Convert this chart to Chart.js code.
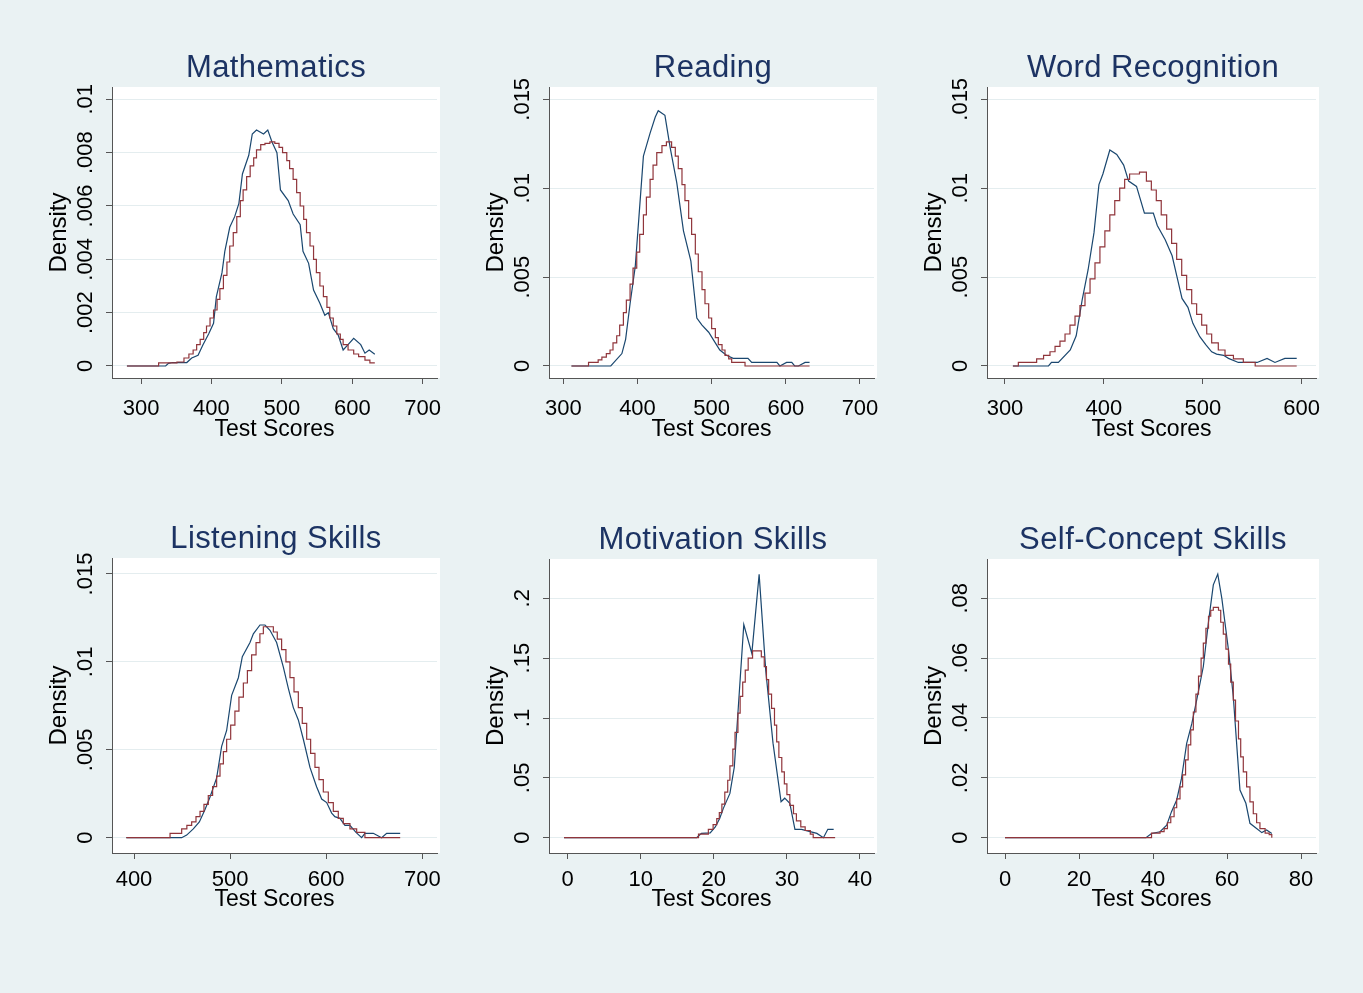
<!DOCTYPE html>
<html><head><meta charset="utf-8">
<script src="https://cdn.jsdelivr.net/npm/chart.js@4.4.1/dist/chart.umd.min.js"></script>
<style>
html,body{margin:0;padding:0;background:#EAF2F3;width:1363px;height:993px;overflow:hidden;}
canvas{position:absolute;}
</style></head><body>
<script>
// ---------- DATA ----------
const mathBlueX = [280,335,339,345,365,372,381,388,396,403,407,415,419,426,433,439,444,453,458,464,474,480,486,493,498,509,516,526,530,538,545,554,561,566,573,580,587,594,602,612,618,624,632];
const mathBlueY = [0,0,0.0001,0.00013,0.00013,0.0003,0.0004,0.0008,0.0012,0.0016,0.0026,0.0035,0.0043,0.0052,0.0056,0.0061,0.0072,0.0079,0.0087,0.00885,0.0087,0.00885,0.0084,0.0080,0.0066,0.0062,0.0057,0.0053,0.0043,0.00385,0.00285,0.00235,0.0019,0.0020,0.0014,0.00116,0.0006,0.0008,0.00104,0.0008,0.00048,0.0006,0.00044];
const mathRedX = [280,325,351,361,368,374,379,384,389,393,398,403,408,412,417,422,426,431,436,441,445,450,455,460,464,470,476,483,490,496,501,507,511,516,521,526,531,535,540,545,549,554,559,564,568,573,578,583,587,594,602,609,618,625,632];
const mathRedY = [0,0.00012,0.00015,0.0003,0.00045,0.0006,0.0008,0.001,0.00125,0.0015,0.0018,0.0021,0.0025,0.0029,0.0034,0.0039,0.0045,0.005,0.0056,0.0062,0.0066,0.0071,0.0075,0.0078,0.0081,0.0083,0.00835,0.0084,0.00835,0.0082,0.008,0.0077,0.0074,0.007,0.0065,0.006,0.0055,0.005,0.0045,0.004,0.0035,0.003,0.0026,0.0022,0.0018,0.0015,0.0012,0.001,0.0008,0.0006,0.00045,0.00035,0.00022,0.00012,0.00012];

const readBlueX = [311,364,379,384,390,397,402,408,417,424,428,437,444,453,462,472,480,487,496,502,511,520,529,549,554,588,592,601,608,612,617,626,632];
const readBlueY = [0,0,0.0007,0.0015,0.0035,0.0056,0.0084,0.0118,0.0131,0.014,0.01436,0.0141,0.0123,0.0103,0.0076,0.0059,0.0027,0.0023,0.0019,0.0015,0.0009,0.0006,0.00043,0.00043,0.0002,0.0002,0,0.0002,0.0002,0,0,0.0002,0.0002];
const readRedX = [311,334,347,352,358,363,367,372,376,381,385,390,394,399,403,408,412,417,421,426,433,439,446,451,455,460,464,469,473,478,482,487,491,496,500,505,509,514,518,523,527,545,632];
const readRedY = [0,0.0002,0.00034,0.0005,0.0007,0.0009,0.0013,0.0017,0.0023,0.003,0.0037,0.0046,0.0055,0.0064,0.0074,0.0085,0.0095,0.0105,0.0113,0.012,0.0124,0.0126,0.0123,0.0118,0.0111,0.0102,0.0093,0.0083,0.0074,0.0063,0.0053,0.0043,0.0035,0.0027,0.0021,0.0016,0.0012,0.0009,0.0006,0.0004,0.0002,0,0];

const wrBlueX = [308,344,347,354,366,372,378,384,390,395,399,406,413,420,425,433,441,450,454,462,469,474,479,485,490,497,503,509,514,521,526,536,555,565,573,583,595];
const wrBlueY = [0,0,0.0002,0.0002,0.0009,0.0017,0.0037,0.0054,0.0075,0.0102,0.0108,0.01215,0.0119,0.0113,0.0104,0.0101,0.0086,0.0086,0.0079,0.0071,0.0062,0.005,0.0038,0.0033,0.0024,0.00165,0.0012,0.0008,0.00067,0.0006,0.00043,0.0002,0.0002,0.00043,0.0002,0.00043,0.00043];
const wrRedX = [308,313.5,332,339,345.5,350.6,355.6,360.7,365.7,370.8,375.8,380.9,386,391,396,401,406,411,416,421,426,436,443,448,453,458,463.5,468.5,473.6,478.7,483.7,488.8,493.8,498.9,504,509,515.7,522.5,531,541,553,595];
const wrRedY = [0,0.0002,0.0004,0.0006,0.0008,0.0011,0.0014,0.0018,0.0023,0.0028,0.0034,0.0041,0.0049,0.0058,0.0067,0.0076,0.0085,0.0093,0.01,0.0105,0.0108,0.0109,0.0104,0.0099,0.0093,0.0085,0.0077,0.0069,0.006,0.0051,0.0043,0.0035,0.0029,0.0023,0.0018,0.0013,0.0009,0.0006,0.0004,0.0002,0,0];

const lisBlueX = [392,449.6,454.8,461.7,468,473.9,479,486,491.2,496.4,501.6,508.6,512.7,520.7,524.2,531.1,536.3,541.5,548.4,555.4,560.6,565.8,571,576.2,583.1,590,595.3,600.5,605.7,609,614.3,619.5,624.7,631,636.9,640.3,649,657.7,662.9,677];
const lisBlueY = [0,0,0.00015,0.0005,0.0009,0.0016,0.0023,0.0034,0.0052,0.0061,0.0081,0.0091,0.0103,0.0111,0.0116,0.0121,0.0121,0.0118,0.0111,0.0097,0.0085,0.0074,0.0067,0.0056,0.004,0.0029,0.0022,0.002,0.0014,0.0012,0.0011,0.0007,0.0007,0.0003,0,0.00025,0.00025,0,0.00025,0.00025];
const lisRedX = [392,437.5,449.6,455,460,464.5,468.7,472.8,477.3,481.8,486,489.5,493,496.4,500.6,505,509.2,513.8,518,522.4,527,531,534.6,541.5,545,549.1,553.6,558.1,562.3,566.5,571,575.1,579.7,583.8,588.3,592.5,597,602.2,607.4,612.6,617.8,624.7,631.7,640.3,677];
const lisRedY = [0,0.00025,0.0005,0.0007,0.0009,0.0012,0.0015,0.0019,0.0024,0.0029,0.0035,0.0042,0.0049,0.0056,0.0064,0.0072,0.008,0.0088,0.0095,0.0104,0.0111,0.0116,0.012,0.012,0.0117,0.0113,0.0107,0.01,0.0091,0.0083,0.0074,0.0065,0.0056,0.0048,0.004,0.0033,0.0026,0.002,0.0015,0.0011,0.0008,0.0005,0.0003,0,0];

const motBlueX = [-0.5,17.65,18.3,19.5,20.2,20.8,21.3,22.2,22.8,23.35,24.1,25.2,26.2,27.1,28.1,29.2,29.7,30.4,31.1,32,34.1,35,35.6,36.4];
const motBlueY = [0,0,0.0036,0.004,0.009,0.016,0.0245,0.037,0.059,0.109,0.178,0.154,0.22,0.14,0.079,0.03,0.033,0.0287,0.007,0.007,0.0036,0,0.007,0.007];
const motRedX = [-0.5,17.9,19.25,19.9,20.4,20.75,21.1,21.5,21.9,22.2,22.6,22.9,23.3,23.6,23.95,24.3,24.7,25.3,26.1,26.5,26.9,27.2,27.5,27.9,28.3,28.6,28.9,29.3,29.65,30,30.4,30.9,31.3,31.9,32.5,33.2,33.6,36.6];
const motRedY = [0,0.003,0.007,0.011,0.016,0.021,0.028,0.038,0.048,0.06,0.074,0.088,0.104,0.118,0.13,0.14,0.15,0.156,0.156,0.151,0.143,0.132,0.12,0.108,0.094,0.08,0.067,0.055,0.045,0.036,0.027,0.02,0.014,0.009,0.006,0.003,0,0];

const scBlueX = [0,38.1,39.6,41.9,43.7,45,46.4,47.7,49.1,50.5,51.8,53.6,55,56.3,57.5,58.6,60.4,61.7,63.5,65.1,66.2,68,69.4,70.7,72.1];
const scBlueY = [0,0,0.0014,0.002,0.0042,0.0087,0.0126,0.0198,0.0315,0.0382,0.046,0.0572,0.0722,0.0845,0.0881,0.08,0.0627,0.0471,0.0159,0.0115,0.0048,0.0031,0.0017,0.0026,0.0014];
const scRedX = [0,39.6,41.9,43,43.9,44.8,45.7,46.4,47.3,48,48.8,49.5,50.2,50.9,51.6,52.3,53,53.6,54.3,55,55.6,56.3,57.7,58.3,59,59.7,60.4,61,61.7,62.3,63.1,63.7,64.4,65.3,66.2,67.1,68,68.9,70.3,71.4,72.1];
const scRedY = [0,0.0015,0.002,0.003,0.005,0.007,0.01,0.013,0.017,0.021,0.026,0.031,0.036,0.042,0.048,0.054,0.06,0.065,0.07,0.074,0.076,0.077,0.076,0.072,0.068,0.063,0.058,0.052,0.046,0.039,0.033,0.027,0.022,0.017,0.012,0.008,0.005,0.003,0.0015,0.001,0];

// tick values and labels
const mathXTicks = [300,400,500,600,700];
const mathYTicks = [0,0.002,0.004,0.006,0.008,0.01];
const mathYLabels = ['0','.002','.004','.006','.008','.01'];
const readXTicks = [300,400,500,600,700];
const wrXTicks = [300,400,500,600];
const lisXTicks = [400,500,600,700];
const smallYTicks = [0,0.005,0.01,0.015];
const smallYLabels = ['0','.005','.01','.015'];
const motXTicks = [0,10,20,30,40];
const motYTicks = [0,0.05,0.1,0.15,0.2];
const motYLabels = ['0','.05','.1','.15','.2'];
const scXTicks = [0,20,40,60,80];
const scYTicks = [0,0.02,0.04,0.06,0.08];
const scYLabels = ['0','.02','.04','.06','.08'];

const titles = ['Mathematics','Reading','Word Recognition','Listening Skills','Motivation Skills','Self-Concept Skills'];
const xAxisTitle = 'Test Scores';
const yAxisTitle = 'Density';

// ---------- LAYOUT / STYLE ----------
const FONT = '"Liberation Sans", Arial, Helvetica, sans-serif';
const BLUE = '#1A476F', RED = '#90353B', AXIS = '#555555', GRID = '#E4EDEF', TITLE = '#1C3363';
const rowStyle = [{tickPad:12, xTitleOff:52}, {tickPad:8, xTitleOff:46.5}];

const panels = [
  {title:titles[0], canvas:[15,20,465,460], area:[112,87,437,378], xr:[258.8,720.3], yr:[-0.00045,0.010461], xt:mathXTicks, yt:mathYTicks, yl:mathYLabels, b:[mathBlueX,mathBlueY], r:[mathRedX,mathRedY], row:0},
  {title:titles[1], canvas:[470,20,905,460], area:[549,87,874,378], xr:[280.7,718.9], yr:[-0.000675,0.015692], xt:readXTicks, yt:smallYTicks, yl:smallYLabels, b:[readBlueX,readBlueY], r:[readRedX,readRedY], row:0},
  {title:titles[2], canvas:[910,20,1358,460], area:[987,87,1316,378], xr:[281.8,614.5], yr:[-0.000675,0.015692], xt:wrXTicks, yt:smallYTicks, yl:smallYLabels, b:[wrBlueX,wrBlueY], r:[wrRedX,wrRedY], row:0},
  {title:titles[3], canvas:[15,490,465,940], area:[112,558,437,853], xr:[377.1,715.3], yr:[-0.00087,0.01591], xt:lisXTicks, yt:smallYTicks, yl:smallYLabels, b:[lisBlueX,lisBlueY], r:[lisRedX,lisRedY], row:1},
  {title:titles[4], canvas:[470,490,905,940], area:[549,559,874,853], xr:[-2.56,41.92], yr:[-0.01278,0.23283], xt:motXTicks, yt:motYTicks, yl:motYLabels, b:[motBlueX,motBlueY], r:[motRedX,motRedY], row:1},
  {title:titles[5], canvas:[910,490,1358,940], area:[987,559,1316,853], xr:[-4.865,84.05], yr:[-0.005113,0.093133], xt:scXTicks, yt:scYTicks, yl:scYLabels, b:[scBlueX,scBlueY], r:[scRedX,scRedY], row:1}
];

const decoPlugin = {
  id: 'deco',
  beforeDraw(chart) {
    const {ctx, chartArea: a} = chart;
    ctx.save();
    ctx.fillStyle = '#FFFFFF';
    ctx.fillRect(a.left, a.top, a.right - a.left + 3, a.bottom - a.top);
    ctx.restore();
  },
  afterDraw(chart, args, opts) {
    const {ctx, chartArea: a} = chart;
    const ys = chart.scales.y;
    ctx.save();
    ctx.fillStyle = TITLE;
    ctx.font = '31px ' + FONT;
    if ('letterSpacing' in ctx) ctx.letterSpacing = '0.4px';
    ctx.textAlign = 'center';
    ctx.textBaseline = 'alphabetic';
    ctx.fillText(opts.title, (a.left + a.right + 3) / 2, a.top - 10);
    if ('letterSpacing' in ctx) ctx.letterSpacing = '0px';
    ctx.fillStyle = '#000000';
    ctx.font = '22px ' + FONT;
    ys.ticks.forEach(t => {
      const py = ys.getPixelForValue(t.value);
      ctx.save();
      ctx.translate(a.left - 20, py);
      ctx.rotate(-Math.PI / 2);
      ctx.textAlign = 'center';
      ctx.textBaseline = 'alphabetic';
      ctx.fillText(t.label, 0, 0);
      ctx.restore();
    });
    ctx.restore();
  }
};

function pts(xs, ys) { return xs.map((x, i) => ({x: x, y: ys[i]})); }

panels.forEach(p => {
  const [cx0, cy0, cx1, cy1] = p.canvas;
  const [L, T, R, B] = p.area;
  const cv = document.createElement('canvas');
  cv.width = cx1 - cx0; cv.height = cy1 - cy0;
  cv.style.left = cx0 + 'px'; cv.style.top = cy0 + 'px';
  document.body.appendChild(cv);
  const yW = L - cx0;
  const xH = cy1 - B;
  const rs = rowStyle[p.row];
  const yTitleLH = 24 * 1.2, xTitleLH = 23 * 1.2;
  new Chart(cv, {
    type: 'line',
    data: {
      datasets: [
        {data: pts(p.b[0], p.b[1]), borderColor: BLUE, borderWidth: 1.2, pointRadius: 0, tension: 0, fill: false, order: 2},
        {data: pts(p.r[0], p.r[1]), borderColor: RED, borderWidth: 1.2, pointRadius: 0, stepped: true, fill: false, order: 1}
      ]
    },
    options: {
      responsive: false,
      animation: false,
      devicePixelRatio: 1,
      layout: {padding: {left: 0, top: T - cy0, right: cx1 - R, bottom: 0}},
      plugins: {legend: {display: false}, tooltip: {enabled: false}, deco: {title: p.title}},
      scales: {
        x: {
          type: 'linear', min: p.xr[0], max: p.xr[1],
          afterBuildTicks: s => { s.ticks = p.xt.map(v => ({value: v})); },
          afterFit: s => { s.height = xH; },
          ticks: {autoSkip: false, maxRotation: 0, minRotation: 0, padding: rs.tickPad, color: '#000', font: {family: FONT, size: 22}, callback: v => String(v)},
          grid: {drawOnChartArea: false, drawTicks: true, tickLength: 6, tickColor: AXIS, lineWidth: 1},
          border: {display: true, color: AXIS, width: 1},
          title: {display: true, text: xAxisTitle, color: '#000', font: {family: FONT, size: 23}, padding: {top: 0, bottom: xH - rs.xTitleOff - xTitleLH / 2}}
        },
        y: {
          type: 'linear', min: p.yr[0], max: p.yr[1],
          afterBuildTicks: s => { s.ticks = p.yt.map(v => ({value: v})); },
          afterFit: s => { s.width = yW; },
          ticks: {display: false, callback: (v, i) => p.yl[i]},
          grid: {drawOnChartArea: true, color: GRID, lineWidth: 1, drawTicks: true, tickLength: 6, tickColor: AXIS},
          border: {display: true, color: AXIS, width: 1},
          title: {display: true, text: yAxisTitle, color: '#000', font: {family: FONT, size: 24}, padding: {top: (L - 53 - cx0) - yTitleLH / 2, bottom: 0}}
        }
      }
    },
    plugins: [decoPlugin]
  });
});
</script>
</body></html>
